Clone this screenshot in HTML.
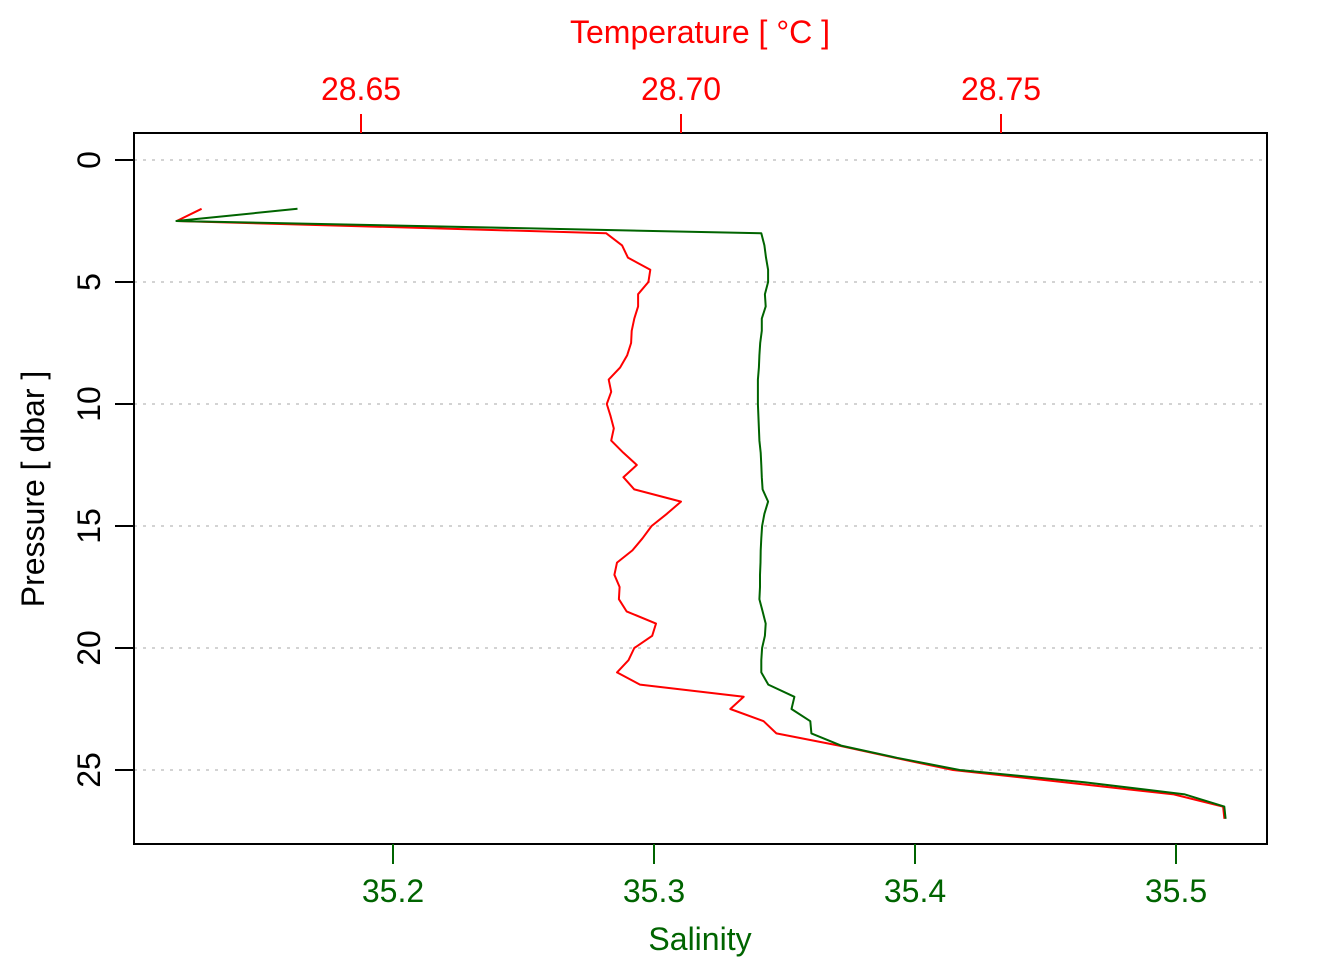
<!DOCTYPE html>
<html><head><meta charset="utf-8"><style>
html,body{margin:0;padding:0;background:#fff;}
svg{display:block;font-family:"Liberation Sans",Arial,sans-serif;}
</style></head><body>
<svg id="chart" width="1344" height="960" viewBox="0 0 1344 960" xmlns="http://www.w3.org/2000/svg">
<rect x="0" y="0" width="1344" height="960" fill="#fff"/>
<g id="grid"></g>
<g id="series"></g>
<rect x="134" y="133" width="1133" height="711" fill="none" stroke="#000" stroke-width="2"/>
<g id="axes"></g>
<text x="700" y="43" font-size="32" fill="#ff0000" text-anchor="middle">Temperature [ °C ]</text>
<text x="700" y="950" font-size="32" fill="#006400" text-anchor="middle">Salinity</text>
<text transform="translate(44,489) rotate(-90)" font-size="32" fill="#000" text-anchor="middle">Pressure [ dbar ]</text>
</svg>
<script>
const pressure = [2,2.5,3,3.5,4,4.5,5,5.5,6,6.5,7,7.5,8,8.5,9,9.5,10,10.5,11,11.5,12,12.5,13,13.5,14,14.5,15,15.5,16,16.5,17,17.5,18,18.5,19,19.5,20,20.5,21,21.5,22,22.5,23,23.5,24,24.5,25,25.5,26,26.5,27];
const temperature = [28.6251,28.6212,28.6883,28.6908,28.6917,28.6952,28.6949,28.6933,28.6933,28.6927,28.6923,28.6922,28.6916,28.6905,28.6887,28.6891,28.6884,28.6890,28.6895,28.6891,28.6910,28.6931,28.6910,28.6927,28.7000,28.6978,28.6954,28.6940,28.6924,28.6900,28.6896,28.6904,28.6903,28.6915,28.6961,28.6955,28.6927,28.6918,28.6900,28.6936,28.7098,28.7077,28.7129,28.7149,28.7247,28.7334,28.7425,28.7599,28.7770,28.7847,28.7849];
const salinity = [35.1634,35.1170,35.3411,35.3423,35.3429,35.3437,35.3437,35.3425,35.3428,35.3413,35.3413,35.3407,35.3404,35.3402,35.3398,35.3398,35.3398,35.3400,35.3402,35.3404,35.3409,35.3411,35.3413,35.3416,35.3437,35.3423,35.3414,35.3411,35.3409,35.3408,35.3406,35.3406,35.3404,35.3416,35.3428,35.3425,35.3414,35.3411,35.3411,35.3438,35.3538,35.3527,35.3599,35.3603,35.3717,35.3931,35.4171,35.4649,35.5034,35.5185,35.5190];
const pressureTicks = [0,5,10,15,20,25];
const salinityTicks = [35.2,35.3,35.4,35.5];
const salinityTickLabels = ["35.2","35.3","35.4","35.5"];
const temperatureTicks = [28.65,28.70,28.75];
const temperatureTickLabels = ["28.65","28.70","28.75"];

const NS="http://www.w3.org/2000/svg";
function yP(p){return 160 + (p-0)*24.4;}
function xS(s){return 393 + (s-35.2)*2610;}
function xT(t){return 361 + (t-28.65)*6400;}
function mk(tag,attrs,parent){const e=document.createElementNS(NS,tag);for(const k in attrs)e.setAttribute(k,attrs[k]);parent.appendChild(e);return e;}

const grid=document.getElementById('grid');
const axes=document.getElementById('axes');
const series=document.getElementById('series');

pressureTicks.forEach(p=>{
  const g=mk('line',{x1:134,x2:1267,y1:yP(p),y2:yP(p),stroke:'#d3d3d3','stroke-width':2,'stroke-dasharray':'3 6'},grid);
  
  
  const t=mk('line',{x1:115,x2:134,y1:yP(p),y2:yP(p),stroke:'#000','stroke-width':2},axes);
  
  
  const l=mk('text',{transform:'translate(100,'+yP(p)+') rotate(-90)','font-size':32,'text-anchor':'middle',fill:'#000'},axes);
  l.textContent=String(p);
  
  
});
salinityTicks.forEach((s,i)=>{
  const t=mk('line',{x1:xS(s),x2:xS(s),y1:844,y2:864,stroke:'#006400','stroke-width':2},axes);
  
  
  const l=mk('text',{x:xS(s),y:902,'font-size':32,'text-anchor':'middle',fill:'#006400'},axes);
  l.textContent=salinityTickLabels[i];
  
  
});
temperatureTicks.forEach((tv,i)=>{
  const t=mk('line',{x1:xT(tv),x2:xT(tv),y1:114,y2:133,stroke:'#ff0000','stroke-width':2},axes);
  
  
  const l=mk('text',{x:xT(tv),y:100,'font-size':32,'text-anchor':'middle',fill:'#ff0000'},axes);
  l.textContent=temperatureTickLabels[i];
  
  
});

const tPts=pressure.map((p,i)=>xT(temperature[i]).toFixed(1)+','+yP(p).toFixed(1)).join(' ');
const tl=mk('polyline',{points:tPts,fill:'none',stroke:'#ff0000','stroke-width':2,'stroke-linejoin':'round'},series);


const sPts=pressure.map((p,i)=>xS(salinity[i]).toFixed(1)+','+yP(p).toFixed(1)).join(' ');
const sl=mk('polyline',{points:sPts,fill:'none',stroke:'#006400','stroke-width':2,'stroke-linejoin':'round'},series);


</script>
</body></html>
